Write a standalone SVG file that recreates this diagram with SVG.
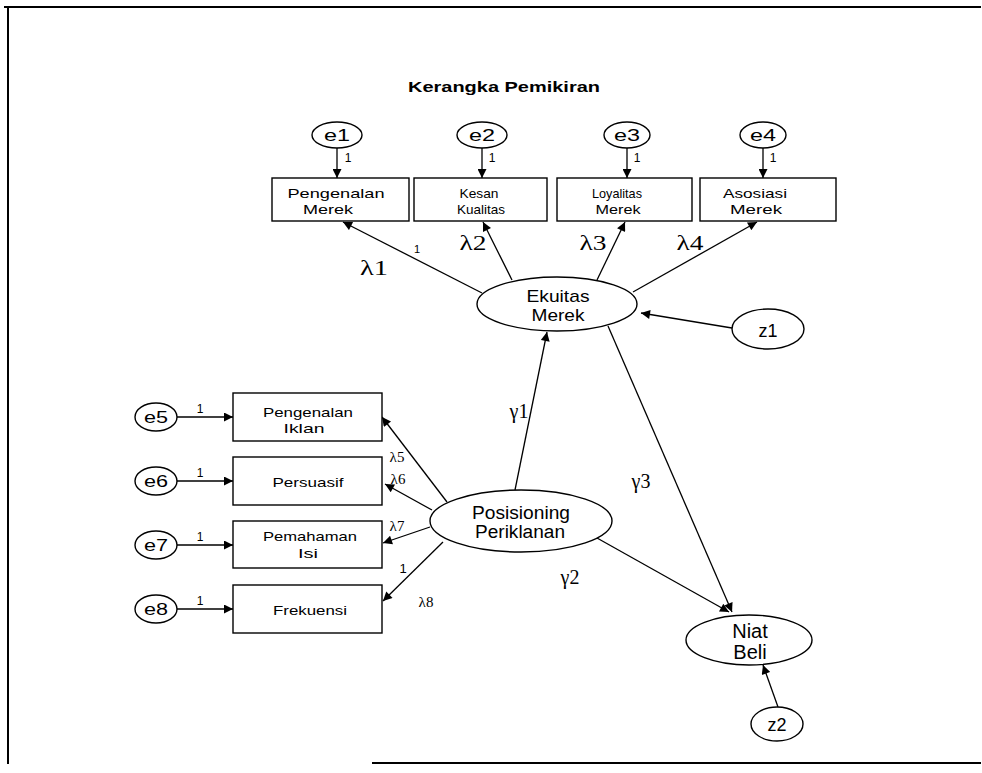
<svg xmlns="http://www.w3.org/2000/svg" width="982" height="773" viewBox="0 0 982 773">
<defs>
<marker id="ah" viewBox="0 0 10 10" refX="10" refY="5" markerWidth="12" markerHeight="9" markerUnits="userSpaceOnUse" orient="auto"><path d="M0,0 L10,5 L0,10 z" fill="#000"/></marker>
</defs>
<style>
.sh{fill:#fff;stroke:#000;stroke-width:1.4}
.t{font-family:"Liberation Sans",Arial,sans-serif;fill:#000;text-anchor:middle}
.bx{font-size:13.5px}
.el{font-size:17px}
.g{font-family:"Liberation Serif","Times New Roman",serif;fill:#000;text-anchor:middle}
.c line{stroke:#000;stroke-width:1.3;marker-end:url(#ah)}
.frame{stroke:#000;fill:none;stroke-width:2}
</style>
<rect x="0" y="0" width="982" height="773" fill="#fff"/>
<g id="frame" class="frame">
<line x1="4" y1="7" x2="981" y2="7"/>
<line x1="8" y1="6" x2="8" y2="764"/>
<line x1="372" y1="763" x2="981" y2="763"/>
</g>
<text class="t" x="504" y="92" font-size="15" font-weight="bold" textLength="192" lengthAdjust="spacingAndGlyphs">Kerangka Pemikiran</text>

<g id="connectors" class="c">
<line x1="337" y1="148" x2="337" y2="178"/>
<line x1="482" y1="148" x2="482" y2="178"/>
<line x1="627" y1="148" x2="627" y2="178"/>
<line x1="763" y1="148" x2="763" y2="178"/>
<line x1="482" y1="293" x2="343" y2="222"/>
<line x1="512" y1="280" x2="483" y2="222"/>
<line x1="597" y1="280" x2="625" y2="222"/>
<line x1="633" y1="292" x2="757" y2="222"/>
<line x1="732" y1="328" x2="641" y2="313"/>
<line x1="515" y1="490" x2="547" y2="332"/>
<line x1="608" y1="326" x2="732" y2="612"/>
<line x1="597" y1="538" x2="729" y2="612"/>
<line x1="778" y1="707" x2="763" y2="665"/>
<line x1="177" y1="417" x2="233" y2="417"/>
<line x1="177" y1="481" x2="233" y2="481"/>
<line x1="177" y1="545" x2="233" y2="545"/>
<line x1="177" y1="609" x2="233" y2="609"/>
<line x1="447" y1="502" x2="382" y2="417"/>
<line x1="432" y1="510" x2="385" y2="484"/>
<line x1="430" y1="527" x2="383" y2="543"/>
<line x1="443" y1="542" x2="383" y2="601"/>
</g>

<g id="labels">
<text class="t" x="348" y="162" font-size="12">1</text>
<text class="t" x="492" y="162" font-size="12">1</text>
<text class="t" x="637" y="162" font-size="12">1</text>
<text class="t" x="773" y="162" font-size="12">1</text>
<text class="g" x="374" y="275" font-size="20" textLength="28" lengthAdjust="spacingAndGlyphs">λ1</text>
<text class="t" x="417" y="253" font-size="11">1</text>
<text class="g" x="473" y="250" font-size="20" textLength="27" lengthAdjust="spacingAndGlyphs">λ2</text>
<text class="g" x="593" y="250" font-size="20" textLength="27" lengthAdjust="spacingAndGlyphs">λ3</text>
<text class="g" x="690" y="250" font-size="20" textLength="27" lengthAdjust="spacingAndGlyphs">λ4</text>
<text class="g" x="519" y="418" font-size="20">γ1</text>
<text class="g" x="641" y="488" font-size="20">γ3</text>
<text class="g" x="570" y="584" font-size="20">γ2</text>
<text class="g" x="397" y="462" font-size="15">λ5</text>
<text class="g" x="398" y="484" font-size="15">λ6</text>
<text class="g" x="397" y="531" font-size="15">λ7</text>
<text class="t" x="403" y="573" font-size="13">1</text>
<text class="g" x="426" y="607" font-size="15">λ8</text>
<text class="t" x="200" y="413" font-size="12">1</text>
<text class="t" x="200" y="477" font-size="12">1</text>
<text class="t" x="200" y="541" font-size="12">1</text>
<text class="t" x="200" y="605" font-size="12">1</text>
</g>

<g id="e1"><ellipse class="sh" cx="337" cy="135" rx="25" ry="13"/><text class="t el" x="337" y="141" textLength="26" lengthAdjust="spacingAndGlyphs">e1</text></g>
<g id="e2"><ellipse class="sh" cx="482" cy="135" rx="25" ry="13"/><text class="t el" x="482" y="141" textLength="26" lengthAdjust="spacingAndGlyphs">e2</text></g>
<g id="e3"><ellipse class="sh" cx="627" cy="135" rx="23" ry="13"/><text class="t el" x="627" y="141" textLength="26" lengthAdjust="spacingAndGlyphs">e3</text></g>
<g id="e4"><ellipse class="sh" cx="763" cy="135" rx="23" ry="13"/><text class="t el" x="763" y="141" textLength="26" lengthAdjust="spacingAndGlyphs">e4</text></g>

<g id="pengenalan-merek"><rect class="sh" x="272" y="178" width="137" height="43"/><text class="t bx" x="336" y="198" textLength="97" lengthAdjust="spacingAndGlyphs">Pengenalan</text><text class="t bx" x="328" y="214" textLength="50" lengthAdjust="spacingAndGlyphs">Merek</text></g>
<g id="kesan-kualitas"><rect class="sh" x="414" y="178" width="133" height="43"/><text class="t bx" x="479" y="198" textLength="39" lengthAdjust="spacingAndGlyphs">Kesan</text><text class="t bx" x="481" y="214" textLength="48" lengthAdjust="spacingAndGlyphs">Kualitas</text></g>
<g id="loyalitas-merek"><rect class="sh" x="557" y="178" width="135" height="43"/><text class="t bx" x="617" y="198" textLength="50" lengthAdjust="spacingAndGlyphs">Loyalitas</text><text class="t bx" x="618" y="214" textLength="45" lengthAdjust="spacingAndGlyphs">Merek</text></g>
<g id="asosiasi-merek"><rect class="sh" x="700" y="178" width="136" height="43"/><text class="t bx" x="755" y="198" textLength="64" lengthAdjust="spacingAndGlyphs">Asosiasi</text><text class="t bx" x="756" y="214" textLength="52" lengthAdjust="spacingAndGlyphs">Merek</text></g>

<g id="ekuitas-merek"><ellipse class="sh" cx="557" cy="304" rx="80" ry="27"/><text class="t" x="558" y="302" font-size="17" textLength="63" lengthAdjust="spacingAndGlyphs">Ekuitas</text><text class="t" x="558" y="321" font-size="17" textLength="53" lengthAdjust="spacingAndGlyphs">Merek</text></g>
<g id="z1"><ellipse class="sh" cx="768" cy="329" rx="36" ry="20"/><text class="t" x="768" y="337" font-size="18">z1</text></g>

<g id="e5"><ellipse class="sh" cx="156" cy="417" rx="21" ry="14"/><text class="t" x="156" y="423" font-size="16" textLength="24" lengthAdjust="spacingAndGlyphs">e5</text></g>
<g id="e6"><ellipse class="sh" cx="156" cy="481" rx="21" ry="14"/><text class="t" x="156" y="487" font-size="16" textLength="24" lengthAdjust="spacingAndGlyphs">e6</text></g>
<g id="e7"><ellipse class="sh" cx="156" cy="545" rx="21" ry="14"/><text class="t" x="156" y="551" font-size="16" textLength="24" lengthAdjust="spacingAndGlyphs">e7</text></g>
<g id="e8"><ellipse class="sh" cx="156" cy="609" rx="21" ry="14"/><text class="t" x="156" y="615" font-size="16" textLength="24" lengthAdjust="spacingAndGlyphs">e8</text></g>

<g id="pengenalan-iklan"><rect class="sh" x="233" y="393" width="149" height="48"/><text class="t bx" x="308" y="417" textLength="90" lengthAdjust="spacingAndGlyphs">Pengenalan</text><text class="t bx" x="304" y="433" textLength="41" lengthAdjust="spacingAndGlyphs">Iklan</text></g>
<g id="persuasif"><rect class="sh" x="233" y="457" width="149" height="48"/><text class="t bx" x="308" y="487" textLength="71" lengthAdjust="spacingAndGlyphs">Persuasif</text></g>
<g id="pemahaman-isi"><rect class="sh" x="233" y="521" width="149" height="47"/><text class="t bx" x="310" y="541" textLength="94" lengthAdjust="spacingAndGlyphs">Pemahaman</text><text class="t bx" x="308" y="558" textLength="20" lengthAdjust="spacingAndGlyphs">Isi</text></g>
<g id="frekuensi"><rect class="sh" x="233" y="585" width="149" height="48"/><text class="t bx" x="310" y="615" textLength="74" lengthAdjust="spacingAndGlyphs">Frekuensi</text></g>

<g id="posisioning-periklanan"><ellipse class="sh" cx="521" cy="521" rx="91" ry="31"/><text class="t" x="521" y="519" font-size="18" textLength="98" lengthAdjust="spacingAndGlyphs">Posisioning</text><text class="t" x="520" y="538" font-size="18" textLength="90" lengthAdjust="spacingAndGlyphs">Periklanan</text></g>
<g id="niat-beli"><ellipse class="sh" cx="749" cy="640" rx="63" ry="25"/><text class="t" x="750" y="638" font-size="20">Niat</text><text class="t" x="750" y="659" font-size="20">Beli</text></g>
<g id="z2"><ellipse class="sh" cx="777" cy="724" rx="26" ry="17"/><text class="t" x="777" y="731" font-size="18">z2</text></g>
</svg>
